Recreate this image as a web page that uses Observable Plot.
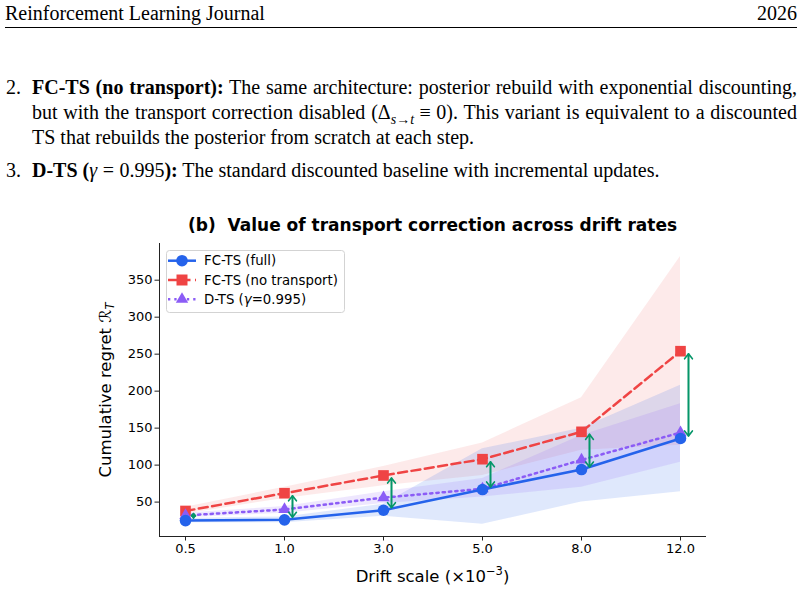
<!DOCTYPE html>
<html><head><meta charset="utf-8">
<script src="https://cdn.jsdelivr.net/npm/d3@7"></script>
<script src="https://cdn.jsdelivr.net/npm/@observablehq/plot@0.6"></script>
<style>
html,body{margin:0;padding:0;background:#fff;}
body{width:804px;height:592px;position:relative;overflow:hidden;font-family:"Liberation Serif","Times New Roman",serif;color:#000;}
.t{position:absolute;white-space:nowrap;font-size:20px;line-height:20px;}
.jl{position:absolute;left:32px;width:765px;font-size:20px;line-height:20px;white-space:nowrap;}
.just{text-align:justify;text-align-last:justify;white-space:normal;}
.num{position:absolute;left:6px;font-size:20px;line-height:20px;}
.eq{margin:0 5.5px;}
#chart{position:absolute;left:0;top:200px;}
#chart svg text{white-space:pre;}
#legend{position:absolute;left:0;top:0;}
</style></head><body>
<div class="t" style="left:5px;top:3px">Reinforcement Learning Journal</div>
<div class="t" style="right:7px;top:3px">2026</div>
<div style="position:absolute;left:5px;width:792px;top:27px;height:1px;background:#000"></div>

<div class="num" style="top:77px">2.</div>
<div class="jl just" style="top:77px"><b>FC-TS (no transport):</b> The same architecture: posterior rebuild with exponential discounting,</div>
<div class="jl just" style="top:102px">but with the transport correction disabled (Δ<sub style="font-size:14px;line-height:0"><i>s</i>→<i>t</i></sub><span class="eq">≡</span>0). This variant is equivalent to a discounted</div>
<div class="jl" style="top:127px">TS that rebuilds the posterior from scratch at each step.</div>
<div class="num" style="top:160px">3.</div>
<div class="jl" style="top:160px"><b>D-TS (</b><i>γ</i><span class="eq">=</span>0.995<b>):</b> The standard discounted baseline with incremental updates.</div>

<div id="chart"></div>
<svg id="legend" width="804" height="592"></svg>
<script>
// ---- data ----
const drift = ["0.5", "1.0", "3.0", "5.0", "8.0", "12.0"];
const yTicks = [50, 100, 150, 200, 250, 300, 350];
const fullMean = [25, 26, 39, 67, 94, 136];
const fullLo   = [22, 22, 31, 20, 50, 64];
const fullHi   = [28, 30, 47, 122, 150, 208];
const noTrMean = [38, 62, 86, 108, 145, 254];
const noTrLo   = [34, 55, 72, 86, 120, 127];
const noTrHi   = [43, 70, 98, 130, 191, 382];
const dtsMean  = [32, 40, 56, 68, 107, 144];
const dtsLo    = [29, 35, 48, 57, 70, 104];
const dtsHi    = [35, 44, 64, 82, 140, 183];
const seriesNames = ["FC-TS (full)", "FC-TS (no transport)", "D-TS (γ=0.995)"];
const titleText = "(b)  Value of transport correction across drift rates";
const xLabel = "Drift scale (×10−3)";
const yLabel = "Cumulative regret ℛT";

const BLUE = "#2563eb", RED = "#ef4444", PURPLE = "#8b5cf6", GREEN = "#059669";
const TICK_FONT = 13;

const rows = (m, lo, hi) => drift.map((d, i) => ({d, m: m[i], lo: lo[i], hi: hi[i]}));
const full = rows(fullMean, fullLo, fullHi);
const noTr = rows(noTrMean, noTrLo, noTrHi);
const dts = rows(dtsMean, dtsLo, dtsHi);
const gap = drift.map((d, i) => ({d, a: noTrMean[i], b: fullMean[i]}));

const arrowOpts = {stroke: GREEN, strokeWidth: 1.6, headLength: 6, headAngle: 75, insetStart: 2.5, insetEnd: 2.5, dx: 8};

const chart = Plot.plot({
  width: 804, height: 392,
  marginTop: 43, marginBottom: 56, marginLeft: 159, marginRight: 99,
  style: {fontFamily: "DejaVu Sans", fontSize: TICK_FONT + "px", color: "#000", background: "transparent", overflow: "visible"},
  x: {type: "point", domain: drift, padding: 0.24},
  y: {domain: [3.5, 399.6]},
  marks: [
    Plot.areaY(noTr, {x: "d", y1: "lo", y2: "hi", fill: RED, fillOpacity: 0.11}),
    Plot.areaY(full, {x: "d", y1: "lo", y2: "hi", fill: BLUE, fillOpacity: 0.15}),
    Plot.areaY(dts, {x: "d", y1: "lo", y2: "hi", fill: PURPLE, fillOpacity: 0.15}),
    Plot.line(noTr, {x: "d", y: "m", stroke: RED, strokeWidth: 2.5, strokeDasharray: "9,4.5"}),
    Plot.dot(noTr, {x: "d", y: "m", symbol: "square", r: 6, fill: RED}),
    Plot.line(dts, {x: "d", y: "m", stroke: PURPLE, strokeWidth: 2.5, strokeDasharray: "2.3,4"}),
    Plot.dot(dts, {x: "d", y: "m", symbol: "triangle", r: 4.6, fill: PURPLE}),
    Plot.line(full, {x: "d", y: "m", stroke: BLUE, strokeWidth: 2.5}),
    Plot.dot(full, {x: "d", y: "m", symbol: "circle", r: 5.8, fill: BLUE}),
    Plot.arrow(gap, {x: "d", y1: "b", y2: "a", ...arrowOpts}),
    Plot.arrow(gap, {x: "d", y1: "a", y2: "b", ...arrowOpts}),
    Plot.frame({anchor: "left", stroke: "#222", strokeWidth: 1}),
    Plot.frame({anchor: "bottom", stroke: "#222", strokeWidth: 1}),
    Plot.axisX({tickSize: 4.5, tickPadding: 3, label: null, stroke: "#222", fontSize: TICK_FONT}),
    Plot.axisY({ticks: yTicks, tickSize: 4.5, tickPadding: 2.5, label: null, stroke: "#222", fontSize: TICK_FONT}),
    Plot.text([titleText], {text: d => d, frameAnchor: "top", dy: -25, fontWeight: "bold", fontSize: 17}),
    Plot.text([xLabel], {text: d => d, frameAnchor: "bottom", dy: 45, fontSize: 16.5}),
    Plot.text([yLabel], {text: d => d, frameAnchor: "left", dx: -54, rotate: -90, textAnchor: "middle", fontSize: 16.5})
  ]
});
document.getElementById("chart").appendChild(chart);

// make sure tick labels use the intended size
const tickStrings = new Set([...drift, ...yTicks.map(String)]);
for (const t of chart.querySelectorAll("text")) {
  if (tickStrings.has(t.textContent.trim())) {
    t.setAttribute("font-size", TICK_FONT);
    t.style.fontSize = TICK_FONT + "px";
  }
}

// rich text for axis labels
const NS = "http://www.w3.org/2000/svg";
for (const t of chart.querySelectorAll("text")) {
  if (t.textContent === xLabel) {
    t.textContent = "";
    const a = document.createElementNS(NS, "tspan"); a.textContent = "Drift scale (×10";
    const b = document.createElementNS(NS, "tspan"); b.textContent = "−3"; b.setAttribute("font-size", "11.5"); b.setAttribute("dy", "-7");
    const c = document.createElementNS(NS, "tspan"); c.textContent = ")"; c.setAttribute("dy", "7");
    t.append(a, b, c);
  } else if (t.textContent === yLabel) {
    t.textContent = "";
    const a = document.createElementNS(NS, "tspan"); a.textContent = "Cumulative regret ℛ";
    const b = document.createElementNS(NS, "tspan"); b.textContent = "T"; b.setAttribute("font-size", "11.5"); b.setAttribute("dy", "3.5"); b.setAttribute("font-style", "italic");
    t.append(a, b);
  }
}

// legend
const lg = d3.select("#legend");
lg.append("rect").attr("x", 166.5).attr("y", 250.5).attr("width", 178).attr("height", 62).attr("rx", 3)
  .attr("fill", "rgba(255,255,255,0.85)").attr("stroke", "#d3d3d3").attr("stroke-width", 1);
const legendStyle = [
  {color: BLUE, dash: null, sym: d3.symbolCircle, size: Math.PI * 5.8 * 5.8},
  {color: RED, dash: "9,4.5", sym: d3.symbolSquare, size: 121},
  {color: PURPLE, dash: "2.3,4", sym: d3.symbolTriangle, size: 66}
];
seriesNames.forEach((name, i) => {
  const cy = 260.7 + i * 19.3;
  const s = legendStyle[i];
  const ln = lg.append("line").attr("x1", 168).attr("x2", 196).attr("y1", cy).attr("y2", cy)
    .attr("stroke", s.color).attr("stroke-width", 2.5);
  if (s.dash) ln.attr("stroke-dasharray", s.dash);
  lg.append("path").attr("d", d3.symbol(s.sym, s.size)()).attr("transform", `translate(182,${cy})`).attr("fill", s.color);
  const tx = lg.append("text").attr("x", 204).attr("y", cy + 4.7)
    .attr("font-family", "DejaVu Sans").attr("font-size", 13.3).attr("fill", "#000");
  if (name.includes("γ")) {
    const [pre, post] = name.split("γ");
    tx.append("tspan").text(pre);
    tx.append("tspan").attr("font-style", "italic").text("γ");
    tx.append("tspan").text(post);
  } else tx.text(name);
});
</script>
</body></html>
